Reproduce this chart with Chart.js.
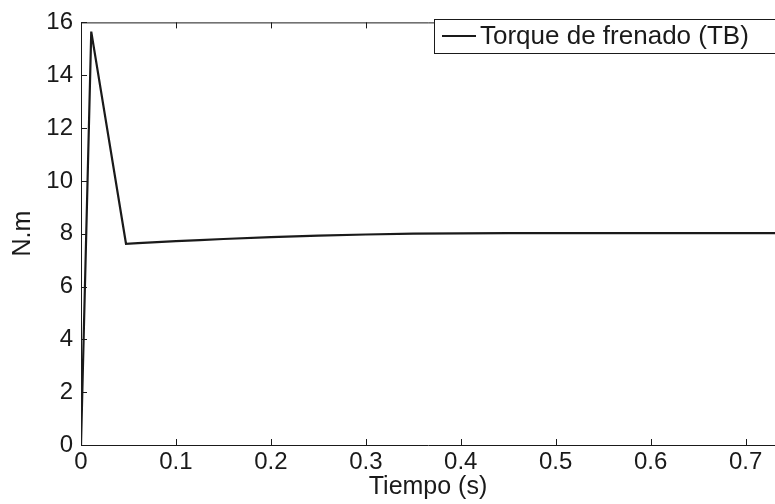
<!DOCTYPE html>
<html>
<head>
<meta charset="utf-8">
<script src="https://cdn.jsdelivr.net/npm/chart.js@4.4.0/dist/chart.umd.min.js"></script>
<style>
  body { margin: 0; background: #fff; }
  canvas { display: block; }
</style>
</head>
<body>
<canvas id="tChart" width="775" height="504"></canvas>
<script>
const tiempo = [0, 0.0108, 0.0474, 0.06, 0.08, 0.1, 0.125, 0.15, 0.2, 0.25, 0.3, 0.35, 0.4, 0.45, 0.5, 0.6, 0.7, 0.735];
const torque = [0, 15.65, 7.62, 7.64, 7.68, 7.72, 7.76, 7.80, 7.87, 7.93, 7.97, 8.0, 8.01, 8.02, 8.02, 8.02, 8.02, 8.02];
const xTicks = [0, 0.1, 0.2, 0.3, 0.4, 0.5, 0.6, 0.7];
const yTicks = [0, 2, 4, 6, 8, 10, 12, 14, 16];
const serieLabel = 'Torque de frenado (TB)';

const fontFam = '"Liberation Sans", Arial, Helvetica, sans-serif';
const ink = '#1a1a1a';

// MATLAB style box, inward ticks and boxed legend
const matlabAxes = {
  id: 'matlabAxes',
  afterDraw(chart) {
    const ctx = chart.ctx;
    const a = chart.chartArea;
    const xs = chart.scales.x, ys = chart.scales.y;
    ctx.save();
    ctx.strokeStyle = ink;
    ctx.lineWidth = 1;
    ctx.beginPath();
    ctx.moveTo(a.left + 0.5, a.bottom + 0.5);
    ctx.lineTo(a.left + 0.5, a.top + 0.5);
    ctx.lineTo(a.right + 2, a.top + 0.5);
    ctx.moveTo(a.left, a.bottom + 0.5);
    ctx.lineTo(a.right + 2, a.bottom + 0.5);
    xTicks.forEach(v => {
      const px = Math.round(xs.getPixelForValue(v)) + 0.5;
      ctx.moveTo(px, a.bottom);
      ctx.lineTo(px, a.bottom - 6);
      ctx.moveTo(px, a.top);
      ctx.lineTo(px, a.top + 6);
    });
    yTicks.forEach(v => {
      const py = Math.round(ys.getPixelForValue(v)) + 0.5;
      ctx.moveTo(a.left, py);
      ctx.lineTo(a.left + 6, py);
    });
    ctx.stroke();

    // legend
    const lx = 434, ly = 19, lw = 345, lh = 34;
    ctx.fillStyle = '#fff';
    ctx.fillRect(lx, ly, lw, lh);
    ctx.strokeRect(lx + 0.5, ly + 0.5, lw, lh);
    ctx.lineWidth = 2;
    ctx.beginPath();
    ctx.moveTo(442, ly + lh / 2);
    ctx.lineTo(476, ly + lh / 2);
    ctx.stroke();
    ctx.fillStyle = ink;
    ctx.font = '26px ' + fontFam;
    ctx.textBaseline = 'middle';
    ctx.textAlign = 'left';
    ctx.fillText(chart.data.datasets[0].label, 480, ly + lh / 2 + 1);
    ctx.restore();
  }
};

const data = {
  datasets: [{
    label: serieLabel,
    data: tiempo.map((t, i) => ({ x: t, y: torque[i] })),
    borderColor: ink,
    borderWidth: 2.2,
    pointRadius: 0,
    tension: 0,
    fill: false
  }]
};

const config = {
  type: 'line',
  data: data,
  options: {
    responsive: false,
    animation: false,
    layout: { padding: { top: 14, right: 0, left: 0, bottom: 0 } },
    plugins: {
      legend: { display: false },
      tooltip: { enabled: false }
    },
    scales: {
      x: {
        type: 'linear',
        min: 0,
        max: 0.731,
        grid: { display: false, drawTicks: false },
        border: { display: false },
        afterFit: s => { s.height = 59; },
        afterBuildTicks: s => { s.ticks = xTicks.map(v => ({ value: v })); },
        ticks: {
          color: ink,
          font: { family: fontFam, size: 24 },
          padding: 3,
          maxRotation: 0,
          autoSkip: false,
          callback: v => String(v)
        },
        title: {
          display: true,
          text: 'Tiempo (s)',
          color: ink,
          font: { family: fontFam, size: 25 },
          padding: { top: 0, bottom: 2 }
        }
      },
      y: {
        min: 0,
        max: 16,
        grid: { display: false, drawTicks: false },
        border: { display: false },
        afterFit: s => { s.width = 81; },
        afterBuildTicks: s => { s.ticks = yTicks.map(v => ({ value: v })); },
        ticks: {
          color: ink,
          font: { family: fontFam, size: 24 },
          padding: 8,
          autoSkip: false
        },
        title: {
          display: true,
          text: 'N.m',
          color: ink,
          font: { family: fontFam, size: 25 },
          padding: { top: 8, bottom: 0 }
        }
      }
    }
  },
  plugins: [matlabAxes]
};

const myChart = new Chart(document.getElementById('tChart'), config);
</script>
</body>
</html>
